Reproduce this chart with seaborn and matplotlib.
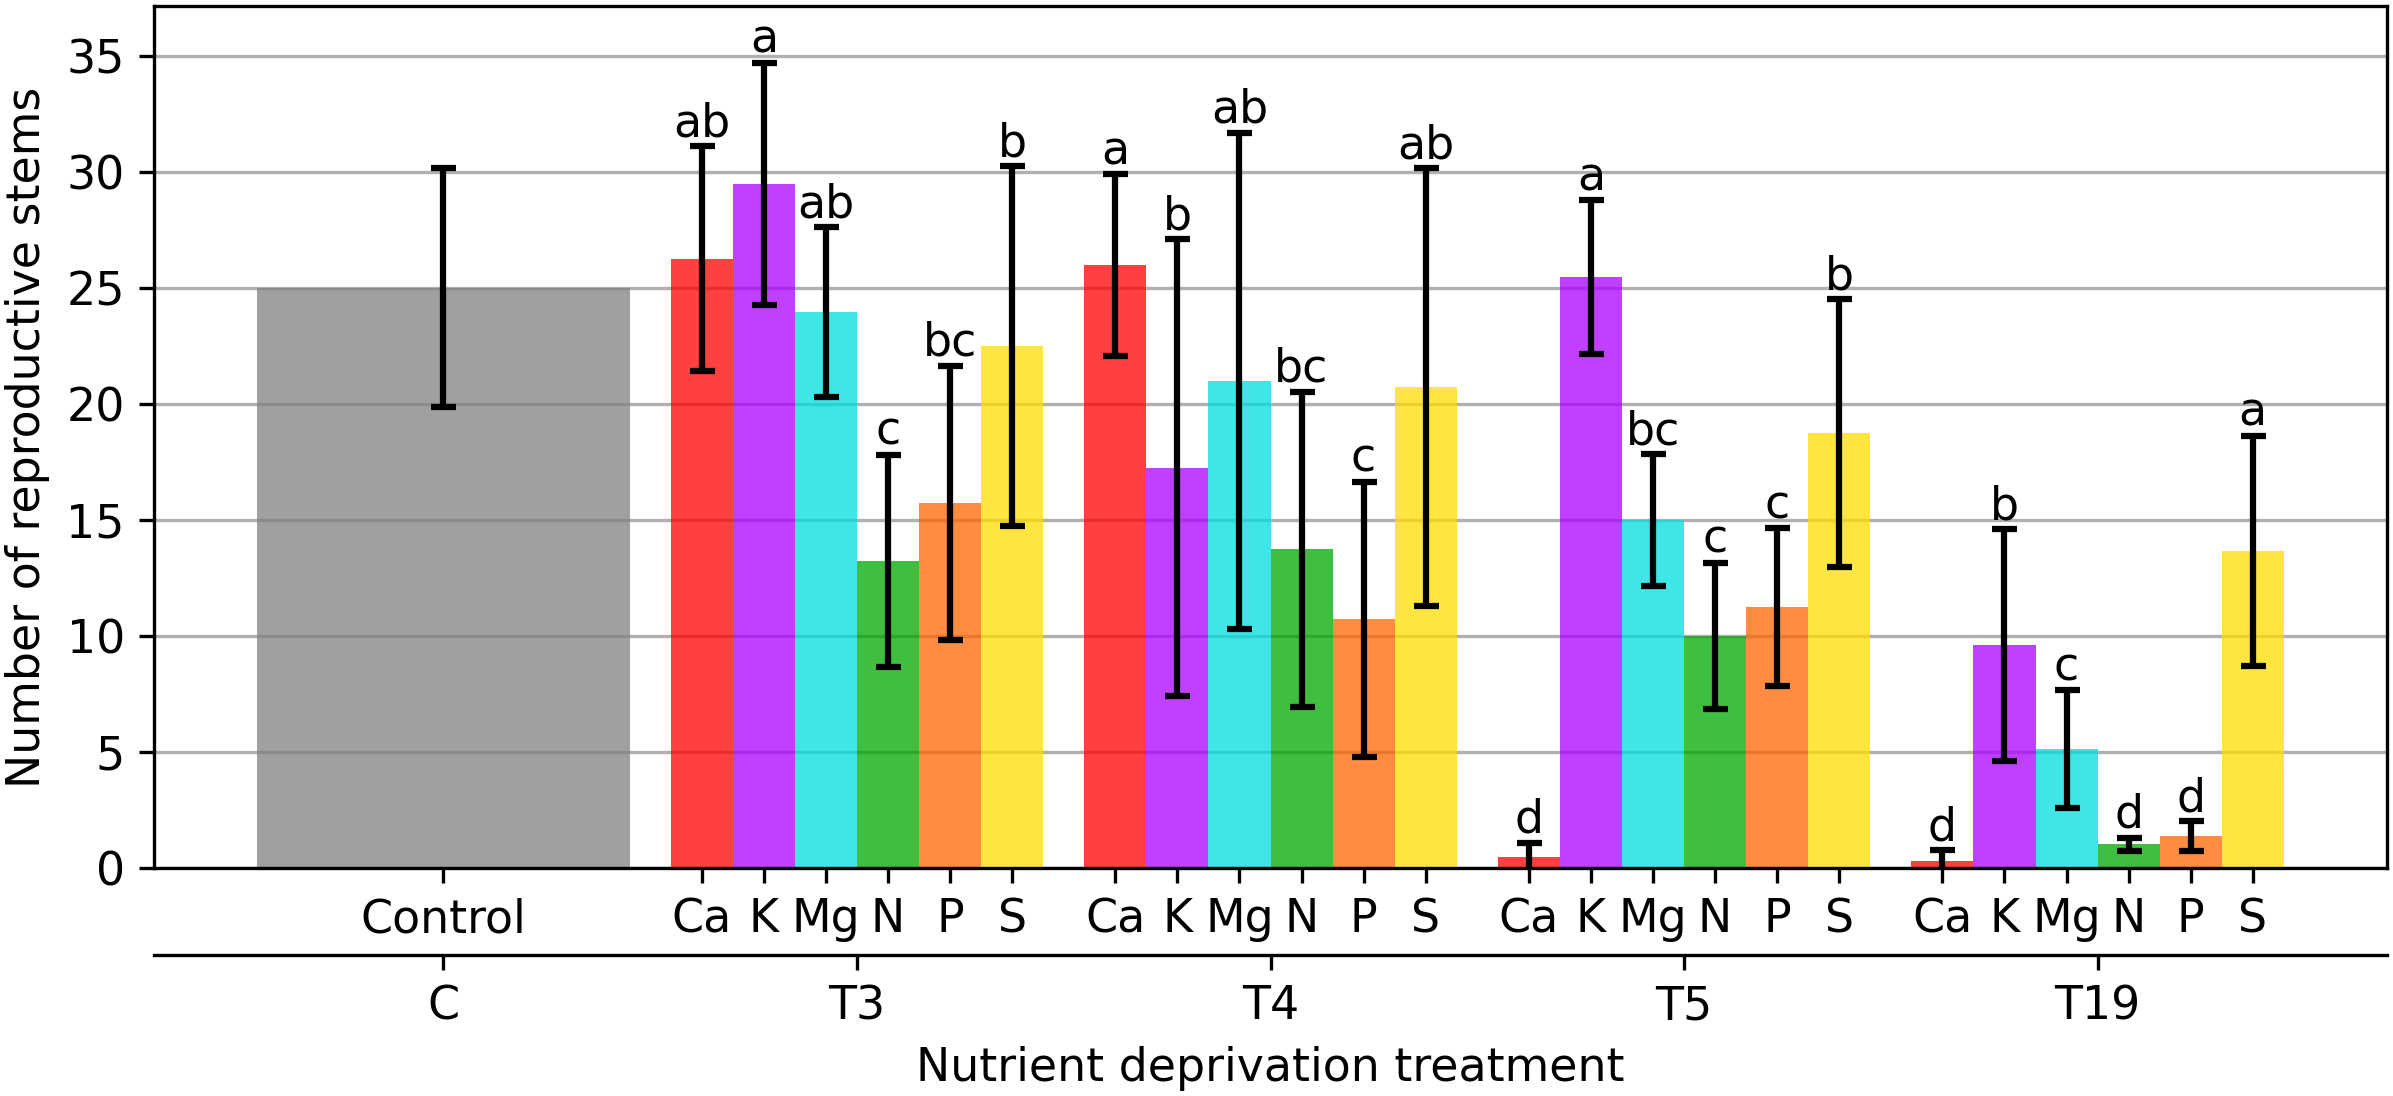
import pandas as pd
import matplotlib
matplotlib.use("Agg")
import matplotlib.pyplot as plt
import seaborn as sns

# treatment groups (C = control) and deprived nutrients
groups = ["C", "T3", "T4", "T5", "T19"]
treatments = ["T3", "T4", "T5", "T19"]
nutrients = ["Ca", "K", "Mg", "N", "P", "S"]

control_mean = 25.0
control_sd = 5.14

# values per nutrient, in order T3, T4, T5, T19
means = {
    "Ca": [26.25, 25.97, 0.46, 0.29],
    "K": [29.48, 17.24, 25.47, 9.60],
    "Mg": [23.95, 20.99, 15.00, 5.12],
    "N": [13.23, 13.74, 9.99, 1.02],
    "P": [15.73, 10.72, 11.24, 1.37],
    "S": [22.48, 20.72, 18.75, 13.66],
}
sds = {
    "Ca": [4.85, 3.92, 0.62, 0.47],
    "K": [5.22, 9.85, 3.31, 5.00],
    "Mg": [3.65, 10.68, 2.83, 2.53],
    "N": [4.57, 6.79, 3.16, 0.28],
    "P": [5.90, 5.92, 3.40, 0.65],
    "S": [7.75, 9.44, 5.76, 4.96],
}
letters = {
    "Ca": ["ab", "a", "d", "d"],
    "K": ["a", "b", "a", "b"],
    "Mg": ["ab", "ab", "bc", "c"],
    "N": ["c", "bc", "c", "d"],
    "P": ["bc", "c", "c", "d"],
    "S": ["b", "ab", "b", "a"],
}

nutrient_colors = ["#ff0000", "#aa00ff", "#00dddd", "#00a800", "#ff6600", "#ffdd00"]
control_color = "#808080"

rows = []
for n in nutrients:
    for t, m, s, l in zip(treatments, means[n], sds[n], letters[n]):
        rows.append({"group": t, "nutrient": n, "mean": m, "sd": s, "letter": l})
df = pd.DataFrame(rows)
ctrl = pd.DataFrame({"group": ["C"], "mean": [control_mean], "sd": [control_sd]})

plt.rcParams["font.size"] = 11
W, H = 2393, 1096
fig = plt.figure(figsize=(W / 300, H / 300), dpi=300)
ax = fig.add_axes([154 / W, 1 - 868 / H, (2387 - 154) / W, 862 / H])

sns.barplot(data=ctrl, x="group", y="mean", order=groups, color=control_color,
            saturation=1, alpha=0.75, width=0.9, errorbar=None, ax=ax, zorder=2)
sns.barplot(data=df, x="group", y="mean", hue="nutrient", order=groups,
            hue_order=nutrients, palette=nutrient_colors, saturation=1, alpha=0.75,
            width=0.9, errorbar=None, legend=False, ax=ax, zorder=2)

err_kw = dict(fmt="none", ecolor="black", elinewidth=1.5, capsize=3, capthick=1.5, zorder=3)

tick_x, tick_lab = [], []
for bar in ax.containers[0]:
    x = bar.get_x() + bar.get_width() / 2
    ax.errorbar(x, control_mean, yerr=control_sd, **err_kw)
    tick_x.append(x)
    tick_lab.append("Control")

for n, cont in zip(nutrients, ax.containers[1:]):
    for bar in cont:
        x = bar.get_x() + bar.get_width() / 2
        t = groups[int(round(x))]
        row = df[(df.group == t) & (df.nutrient == n)].iloc[0]
        ax.errorbar(x, row["mean"], yerr=row["sd"], **err_kw)
        ax.text(x, row["mean"] + row["sd"], row["letter"], ha="center", va="bottom", zorder=4)
        tick_x.append(x)
        tick_lab.append(n)

ax.set_xlim(-0.7, 4.7)
ax.set_ylim(0, 37.14)
ax.set_yticks(range(0, 36, 5))
ax.set_xticks(tick_x, tick_lab)
ax.yaxis.grid(True, color="#b0b0b0", lw=0.8)
ax.xaxis.grid(False)
ax.set_axisbelow(True)
ax.set_xlabel("")
ax.set_ylabel("Number of reproductive stems")

sec = ax.secondary_xaxis(-87 / 862)
sec.set_xticks(range(len(groups)), labels=groups)
sec.set_xlabel("Nutrient deprivation treatment")

fig.savefig("out.png", dpi=300)
